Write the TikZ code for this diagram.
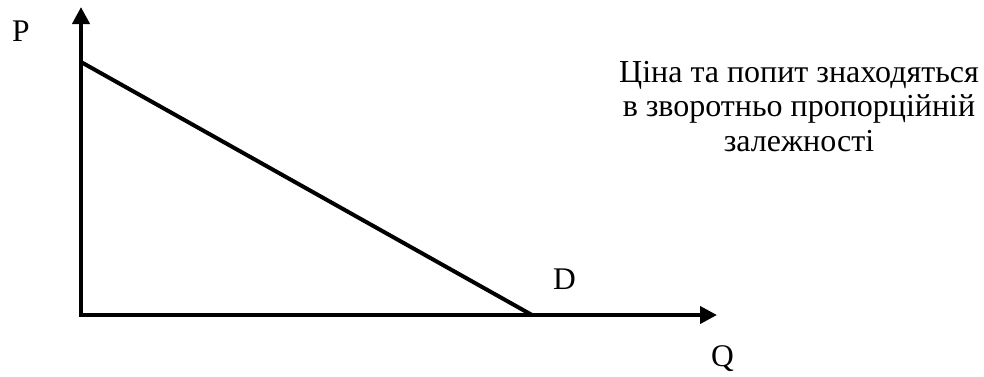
\documentclass[tikz,border=0pt]{standalone}
\usepackage{fontspec}
\setmainfont{Liberation Serif}
\usetikzlibrary{arrows.meta}
\begin{document}
\begin{tikzpicture}[x=1pt,y=-1pt,
  axis/.style={line width=4pt,-{Triangle[length=17pt,width=17pt]}},
  demand/.style={line width=4pt},
  lbl/.style={inner sep=0pt,anchor=base west,font=\fontsize{31.5}{34}\selectfont},
  note/.style={inner sep=0pt,align=center,font=\fontsize{32}{34.5}\selectfont}]
\useasboundingbox (0,0) rectangle (984,376);
\coordinate (O) at (81,315);
\coordinate (Ptop) at (81,7);
\coordinate (Qend) at (717,315);
\coordinate (A) at (81,62);
\coordinate (B) at (532,315);
\draw[axis] ([yshift=2pt]O) -- (Ptop);
\draw[axis] ([xshift=-2pt]O) -- (Qend);
\draw[demand] (A) -- (B);
\node[lbl] (P) at (12,41) {P};
\node[lbl] (D) at (553,289) {D};
\node[lbl] (Q) at (711,366) {Q};
\node[note,anchor=base] (txt) at (799,151) {Ціна та попит знаходяться\\в зворотньо пропорційній\\залежності};
\end{tikzpicture}
\end{document}
